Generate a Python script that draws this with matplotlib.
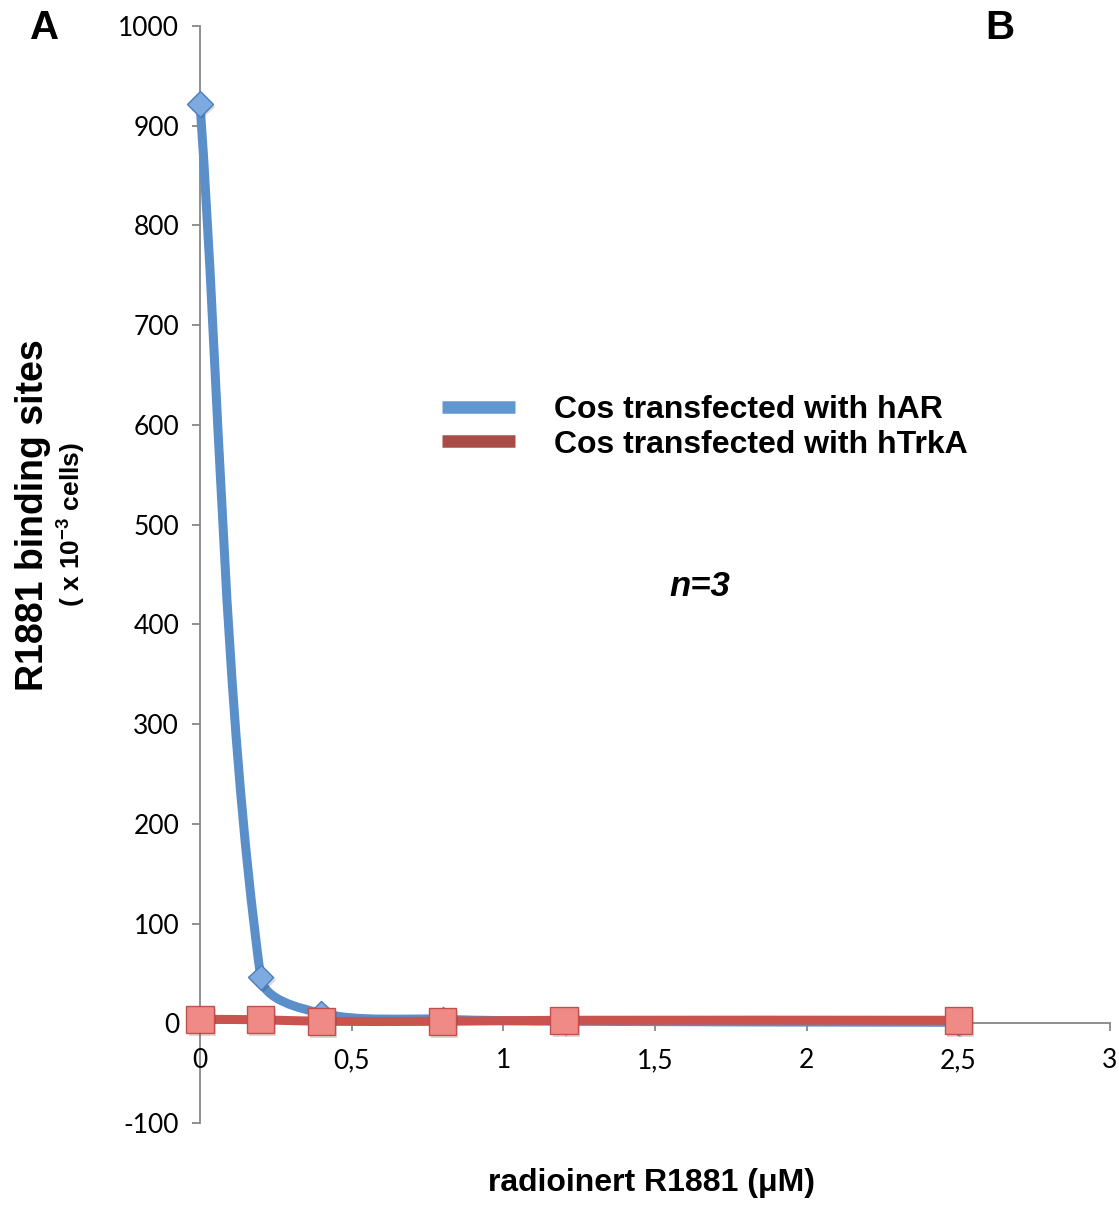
import numpy as np
import matplotlib
matplotlib.use("Agg")
import matplotlib.pyplot as plt
import matplotlib.patheffects as pe
from matplotlib.path import Path
from matplotlib.patches import PathPatch
from matplotlib.lines import Line2D

plt.rcParams['mathtext.fontset'] = 'custom'
plt.rcParams['mathtext.rm'] = 'Liberation Sans'
plt.rcParams['mathtext.bf'] = 'Liberation Sans:bold'
plt.rcParams['axes.unicode_minus'] = False

# Data
conc = [0, 0.2, 0.4, 0.8, 1.2, 2.5]          # radioinert R1881 (uM)
har = [922, 46, 10, 4, 2, 1]                 # Cos transfected with hAR
htrka = [4, 3.5, 2, 2, 3, 3]                 # Cos transfected with hTrkA
labels = ['Cos transfected with hAR', 'Cos transfected with hTrkA']
xticks = [0, 0.5, 1, 1.5, 2, 2.5, 3]
xticklabels = ['0', '0,5', '1', '1,5', '2', '2,5', '3']
yticks = list(range(-100, 1001, 100))

blue_line = '#5a8fca'
red_line = '#c9534f'
axis_grey = '#878787'
shadow = [pe.SimplePatchShadow(offset=(1.5, -2), alpha=0.18), pe.Normal()]


# Excel-like smoothed line: cubic bezier through every point
def smooth_path(xs, ys, sx, sy):
    P = np.column_stack([np.asarray(xs, float) * sx, np.asarray(ys, float) * sy])
    n = len(P)
    verts = [P[0]]
    codes = [Path.MOVETO]
    for i in range(n - 1):
        p0 = P[i - 1] if i > 0 else P[i]
        p1, p2 = P[i], P[i + 1]
        p3 = P[i + 2] if i + 2 < n else P[i + 1]
        d01 = np.linalg.norm(p1 - p0)
        d12 = np.linalg.norm(p2 - p1)
        d23 = np.linalg.norm(p3 - p2)
        c1 = p1 + (p2 - p0) * d12 / (d01 + d12) / 3
        c2 = p2 - (p3 - p1) * d12 / (d12 + d23) / 3
        verts += [c1, c2, p2]
        codes += [Path.CURVE4] * 3
    verts = np.array(verts) / [sx, sy]
    return Path(verts, codes)


fig = plt.figure(figsize=(11.19, 12.05), dpi=100)
ax = fig.add_axes([200 / 1119, 82 / 1205, 910 / 1119, 1097 / 1205])
ax.set_xlim(0, 3)
ax.set_ylim(-100, 1000)

# pixel scale of each axis, for the smoothing
sx, sy = 910 / 3, 1097 / 1100

ax.add_patch(PathPatch(smooth_path(conc, har, sx, sy), fill=False,
                       edgecolor=blue_line, lw=6.5, capstyle='round',
                       joinstyle='round', clip_on=False, zorder=3))
ax.plot(conc, har, linestyle='none', marker='D', markersize=13,
        markerfacecolor='#7eaae2', markeredgecolor='#4a7ebb',
        markeredgewidth=1, clip_on=False, zorder=4, path_effects=shadow)

ax.add_patch(PathPatch(smooth_path(conc, htrka, sx, sy), fill=False,
                       edgecolor=red_line, lw=6.5, capstyle='round',
                       joinstyle='round', clip_on=False, zorder=5))
ax.plot(conc, htrka, linestyle='none', marker='s', markersize=19.5,
        markerfacecolor='#f08a86', markeredgecolor='#c0504d',
        markeredgewidth=1, clip_on=False, zorder=6, path_effects=shadow)

# axes styling
for side in ['top', 'right']:
    ax.spines[side].set_visible(False)
ax.spines['bottom'].set_position(('data', 0))
for side in ['left', 'bottom']:
    ax.spines[side].set_color(axis_grey)
    ax.spines[side].set_linewidth(1.3)
    ax.spines[side].set_zorder(1)

ax.set_xticks(xticks)
ax.set_xticklabels(xticklabels)
ax.set_yticks(yticks)
ax.tick_params(axis='both', colors=axis_grey, labelcolor='black',
               direction='out', length=6, width=1.3, labelsize=19)
ax.tick_params(axis='x', pad=12)
ax.tick_params(axis='y', pad=9)
for lab in ax.get_xticklabels() + ax.get_yticklabels():
    lab.set_family('Lato')

# legend
handles = [Line2D([], [], color='#6097cf', lw=9, solid_capstyle='butt'),
           Line2D([], [], color='#a94b46', lw=9, solid_capstyle='butt')]
leg = fig.legend(handles, labels, loc='upper left',
                 bbox_to_anchor=(413 / 1119, 1 - 366 / 1205), frameon=False,
                 prop={'family': 'Liberation Sans', 'weight': 'bold', 'size': 23},
                 handlelength=2.3, handletextpad=1.2, labelspacing=0.15)

# text
bold = dict(family='Liberation Sans', weight='bold')
fig.text(45 / 1119, 1 - 28 / 1205, 'A', fontsize=29, ha='center', va='center', **bold)
fig.text(1000 / 1119, 1 - 28 / 1205, 'B', fontsize=29, ha='center', va='center', **bold)
fig.text(700 / 1119, 1 - 587 / 1205, 'n=3', fontsize=25, ha='center', va='center',
         style='italic', **bold)
fig.text(651 / 1119, 1 - 1183 / 1205, 'radioinert R1881 (\u03bcM)', fontsize=23,
         ha='center', va='center', **bold)
fig.text(33 / 1119, 1 - 515 / 1205, 'R1881 binding sites', fontsize=27,
         rotation=90, ha='center', va='center', **bold)
fig.text(71 / 1119, 1 - 525 / 1205, r'( x 10$^{\mathbf{-3}}$ cells)', fontsize=19,
         rotation=90, ha='center', va='center', **bold)

fig.savefig('out.png', dpi=100)
